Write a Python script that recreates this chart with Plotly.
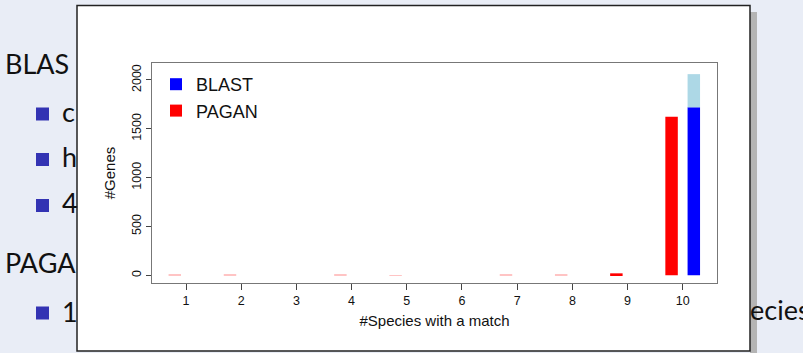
import plotly.graph_objects as go

# ---- data ----
species = [1, 2, 3, 4, 5, 6, 7, 8, 9, 10]
pagan = [3, 3, 0, 3, 2, 0, 3, 3, 20, 1624]
blast = [0, 0, 0, 0, 0, 0, 0, 0, 0, 1720]
blast_extra = [0, 0, 0, 0, 0, 0, 0, 0, 0, 340]
y_ticks = [0, 500, 1000, 1500, 2000]

W, H = 803, 353
L, R, T, B = 152, 717, 63, 283


def px(x):
    return (x - L) / (R - L)


def py(y):
    return (B - y) / (B - T)


# sub-pixel bars render as faint (anti-aliased) pink in the original,
# so draw them as a separate, lighter trace
pagan_main = [v if v >= 10 else None for v in pagan]
pagan_tiny = [v if 0 < v < 10 else None for v in pagan]

fig = go.Figure()
bw = 0.226
fig.add_trace(go.Bar(x=species, y=pagan_main, name="PAGAN", marker_color="#ff0000",
                     marker_line_width=0, width=bw, offset=-0.316, legendrank=2))
fig.add_trace(go.Bar(x=species, y=pagan_tiny, name="PAGAN (small)", marker_color="#ffc4c4",
                     marker_line_width=0, width=bw, offset=-0.316, showlegend=False))
fig.add_trace(go.Bar(x=species, y=blast, name="BLAST", marker_color="#0000ff",
                     marker_line_width=0, width=bw, offset=0.087, legendrank=1))
fig.add_trace(go.Bar(x=species, y=blast_extra, base=blast, name="BLAST (extra)",
                     marker_color="#add8e6", marker_line_width=0, width=bw,
                     offset=0.087, showlegend=False))

shapes = []
# popup shadow
shapes.append(dict(type="rect", xref="paper", yref="paper", x0=px(750), x1=px(757),
                   y0=py(360), y1=py(12), fillcolor="#b4b4b4", line_width=0, layer="below"))
# popup window
shapes.append(dict(type="rect", xref="paper", yref="paper", x0=px(77), x1=px(750),
                   y0=py(351), y1=py(5.5), fillcolor="white",
                   line=dict(color="#222222", width=1.5), layer="below"))
# beamer bullets
for yc in [114, 159.5, 205.5, 313]:
    shapes.append(dict(type="rect", xref="paper", yref="paper", x0=px(36), x1=px(49),
                       y0=py(yc + 6.5), y1=py(yc - 6.5), fillcolor="#3333b3",
                       line_width=0, layer="below"))

slide_font = dict(family="Lato", size=27, color="#111111")
annotations = []
slide_texts = [("BLAS", 3, 64), ("c", 60, 111), ("h", 60, 156), ("4", 60, 202),
               ("PAGA", 3, 262), ("1", 60, 311), ("ecies", 748, 309), ("1", 60, 362)]
for txt, x0, yc in slide_texts:
    annotations.append(dict(text=txt, xref="paper", yref="paper", x=px(x0), y=py(yc),
                            xanchor="left", yanchor="middle", showarrow=False,
                            font=slide_font))

fig.update_layout(
    shapes=shapes,
    annotations=annotations,
    width=W, height=H,
    margin=dict(l=L, r=W - R, t=T, b=H - B, pad=0),
    paper_bgcolor="#e9edf6",
    plot_bgcolor="rgba(0,0,0,0)",
    barmode="overlay",
    bargap=0.2,
    font=dict(family="Liberation Sans, Arial, sans-serif", color="#111111"),
    showlegend=True,
    legend=dict(x=px(156), y=py(66), xanchor="left", yanchor="top",
                bgcolor="rgba(0,0,0,0)", font=dict(size=18, color="#111111"),
                itemsizing="constant", tracegroupgap=0),
    xaxis=dict(range=[0.384, 10.62], tickmode="array", tickvals=species,
               ticktext=[str(s) for s in species], ticks="outside", ticklen=6,
               tickcolor="#444444", showline=True, mirror=True, linecolor="#777777",
               linewidth=1, showgrid=False, zeroline=False,
               tickfont=dict(size=12.5, color="#111111"),
               title=dict(text="#Species with a match", font=dict(size=15), standoff=8)),
    yaxis=dict(range=[-79, 2174], tickmode="array", tickvals=y_ticks,
               ticktext=[str(v) for v in y_ticks], ticks="outside", ticklen=5,
               tickcolor="#444444", showline=True, mirror=True, linecolor="#777777",
               linewidth=1, showgrid=False, zeroline=False, tickangle=-90,
               tickfont=dict(size=12.5, color="#111111"), ticklabelstandoff=0,
               title=dict(text="#Genes", font=dict(size=15), standoff=10)),
)

post = "document.body.style.margin='0';"
fig.write_html("out.html", config={"displayModeBar": False}, post_script=post)
